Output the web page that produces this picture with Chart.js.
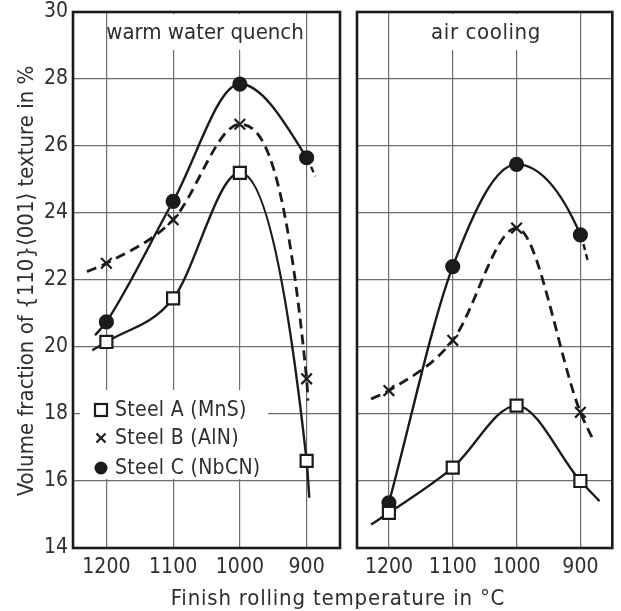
<!DOCTYPE html>
<html>
<head>
<meta charset="utf-8">
<title>Volume fraction of {110}⟨001⟩ texture vs finish rolling temperature</title>
<script src="https://cdn.jsdelivr.net/npm/chart.js"></script>
<style>
  html, body { margin: 0; padding: 0; background: #fff; }
  #wrap { position: relative; width: 621px; height: 611px; }
  #wrap canvas { position: absolute; left: 0; top: 0; }
</style>
</head>
<body>
<div id="wrap">
  <canvas id="quenchChart" width="621" height="611"></canvas>
  <canvas id="airChart" width="621" height="611"></canvas>
</div>
<script>
// finish rolling temperatures where the samples were taken
const temps = [1200, 1100, 1000, 900];
const tempTicks = [1200, 1100, 1000, 900];
const steelNames = ['Steel A (MnS)', 'Steel B (AlN)', 'Steel C (NbCN)'];

// warm water quench, values at the marks
const quenchA = [20.15, 21.45, 25.2, 16.6];
const quenchB = [22.5, 23.8, 26.65, 19.05];
const quenchC = [20.75, 24.35, 27.85, 25.65];
// where the drawn curves start and stop beyond the marks [temp, value]
const quenchStarts = [[1221, 19.9], [1229, 22.25], [1217, 20.35]];
const quenchEnds = [[896, 15.5], [898, 18.4], [887, 25.1]];

// air cooling
const airA = [15.05, 16.4, 18.25, 16.0];
const airB = [18.7, 20.2, 23.55, 18.05];
const airC = [15.35, 22.4, 25.45, 23.35];
const airStarts = [[1228, 14.7], [1228, 18.45], null];
const airEnds = [[870, 15.4], [878, 17.15], [888, 22.55]];

const INK = '#1b1b1b';
const TEXT = '#2e2e2e';
const GRID = '#6e6e6e';
const FONT = "'DejaVu Sans Condensed', 'DejaVu Sans', sans-serif";

// marker + line look for steel A, B, C
const steelStyle = [
    { pointStyle: 'rect', radius: 8.5, fill: '#fff', dash: [], width: 2.4 },
    { pointStyle: 'crossRot', radius: 7.5, fill: INK, dash: [10, 6], width: 2.8 },
    { pointStyle: 'circle', radius: 6.5, fill: INK, dash: [], width: 2.4 }
];

/**
 * One curve with its marks; start/end are the bits of curve past the marks
 */
function buildDataset(i, values, start, end, dashedEnd) {
    const st = steelStyle[i];
    const pts = [];
    const radii = [];
    if (start) { pts.push({ x: start[0], y: start[1] }); radii.push(0); }
    temps.forEach((t, k) => { pts.push({ x: t, y: values[k] }); radii.push(st.radius); });
    if (end) { pts.push({ x: end[0], y: end[1] }); radii.push(0); }
    const last = pts.length - 1;

    return {
        label: steelNames[i],
        data: pts,
        borderColor: INK,
        borderWidth: st.width,
        borderDash: st.dash,
        cubicInterpolationMode: 'monotone',
        fill: false,
        pointStyle: st.pointStyle,
        pointRadius: radii,
        pointBorderWidth: 2.2,
        pointBorderColor: INK,
        pointBackgroundColor: st.fill,
        segment: {
            borderDash: c => (dashedEnd && c.p1DataIndex === last) ? [6, 4] : undefined
        }
    };
}

function spacedText(ctx, text, x, y, spacing) {
    ctx.letterSpacing = spacing + 'px';
    ctx.fillText(text, x, y);
    ctx.letterSpacing = '0px';
}

// frame, white gaps behind titles / legend, in-panel title and legend, axis titles
const panelDecor = {
    id: 'panelDecor',
    beforeDatasetsDraw(chart, args, opts) {
        const ctx = chart.ctx;
        const a = chart.chartArea;
        ctx.save();

        ctx.fillStyle = '#fff';
        (opts.blanks || []).forEach(b => ctx.fillRect(b[0], b[1], b[2], b[3]));

        ctx.strokeStyle = INK;
        ctx.lineWidth = 2.6;
        ctx.strokeRect(a.left, a.top, a.right - a.left, a.bottom - a.top);

        ctx.fillStyle = TEXT;
        ctx.font = '22px ' + FONT;
        ctx.textAlign = 'center';
        ctx.textBaseline = 'alphabetic';
        spacedText(ctx, opts.title, opts.titleX, opts.titleY, opts.titleSpacing);

        if (opts.legend) {
            const lg = opts.legend;
            chart.data.datasets.forEach((ds, i) => {
                const y = lg.rows[i];
                const x = lg.x;
                ctx.strokeStyle = INK;
                ctx.fillStyle = INK;
                ctx.lineWidth = 2.2;
                if (ds.pointStyle === 'rect') {
                    ctx.fillStyle = '#fff';
                    ctx.fillRect(x - 6, y - 6, 12, 12);
                    ctx.strokeRect(x - 6, y - 6, 12, 12);
                } else if (ds.pointStyle === 'crossRot') {
                    ctx.beginPath();
                    ctx.moveTo(x - 4.5, y - 4.5); ctx.lineTo(x + 4.5, y + 4.5);
                    ctx.moveTo(x - 4.5, y + 4.5); ctx.lineTo(x + 4.5, y - 4.5);
                    ctx.stroke();
                } else {
                    ctx.beginPath();
                    ctx.arc(x, y, 6.5, 0, Math.PI * 2);
                    ctx.fill();
                }
                ctx.fillStyle = TEXT;
                ctx.font = '21px ' + FONT;
                ctx.textAlign = 'left';
                ctx.textBaseline = 'middle';
                spacedText(ctx, ds.label, lg.textX, y + 1, 0.3);
            });
        }
        ctx.restore();
    },
    afterDraw(chart, args, opts) {
        if (!opts.axisTitles) return;
        const ctx = chart.ctx;
        ctx.save();
        ctx.fillStyle = TEXT;
        ctx.font = '22px ' + FONT;
        ctx.textAlign = 'center';
        ctx.textBaseline = 'alphabetic';
        spacedText(ctx, 'Finish rolling temperature in °C', 338, 605, 0.8);

        ctx.translate(33, 281);
        ctx.rotate(-Math.PI / 2);
        spacedText(ctx, 'Volume fraction of {110}⟨001⟩ texture in %', 0, 0, 0);
        ctx.restore();
    }
};

function panelOptions(showYTicks, padding, yWidth, decor) {
    return {
        responsive: false,
        animation: false,
        events: [],
        layout: { padding: padding },
        scales: {
            x: {
                type: 'linear',
                min: 850,
                max: 1250,
                reverse: true,
                afterBuildTicks: scale => { scale.ticks = tempTicks.map(v => ({ value: v })); },
                afterFit: scale => {
                    scale.height = 63;
                    scale.paddingLeft = 0;
                    scale.paddingRight = 0;
                },
                grid: { color: GRID, lineWidth: 1.2, drawTicks: false },
                border: { display: false },
                ticks: {
                    color: TEXT, padding: 9, font: { family: FONT, size: 21, lineHeight: 1 },
                    callback: v => String(v)
                }
            },
            y: {
                min: 14,
                max: 30,
                afterFit: scale => {
                    scale.width = yWidth;
                    scale.paddingTop = 0;
                    scale.paddingBottom = 0;
                },
                grid: { color: GRID, lineWidth: 1.2, drawTicks: false },
                border: { display: false },
                ticks: {
                    display: showYTicks, stepSize: 2, color: TEXT, padding: 5,
                    font: { family: FONT, size: 21, lineHeight: 1 }
                }
            }
        },
        plugins: {
            legend: { display: false },
            tooltip: { enabled: false },
            panelDecor: decor
        }
    };
}

new Chart(document.getElementById('quenchChart'), {
    type: 'line',
    data: {
        datasets: [
            buildDataset(0, quenchA, quenchStarts[0], quenchEnds[0], false),
            buildDataset(1, quenchB, quenchStarts[1], quenchEnds[1], false),
            buildDataset(2, quenchC, quenchStarts[2], quenchEnds[2], true)
        ]
    },
    options: panelOptions(true, { top: 12, right: 281, left: 0, bottom: 0 }, 73, {
        title: 'warm water quench', titleX: 205, titleY: 39, titleSpacing: 0,
        blanks: [[109, 14, 195, 36], [80, 390, 188, 89]],
        legend: { x: 101, textX: 115, rows: [410, 438, 468] },
        axisTitles: true
    }),
    plugins: [panelDecor]
});

new Chart(document.getElementById('airChart'), {
    type: 'line',
    data: {
        datasets: [
            buildDataset(0, airA, airStarts[0], airEnds[0], false),
            buildDataset(1, airB, airStarts[1], airEnds[1], false),
            buildDataset(2, airC, airStarts[2], airEnds[2], true)
        ]
    },
    options: panelOptions(false, { top: 12, right: 3, left: 345, bottom: 0 }, 12, {
        title: 'air cooling', titleX: 486, titleY: 39, titleSpacing: 0.6,
        blanks: [[426, 14, 121, 36]],
        legend: null,
        axisTitles: false
    }),
    plugins: [panelDecor]
});
</script>
</body>
</html>
